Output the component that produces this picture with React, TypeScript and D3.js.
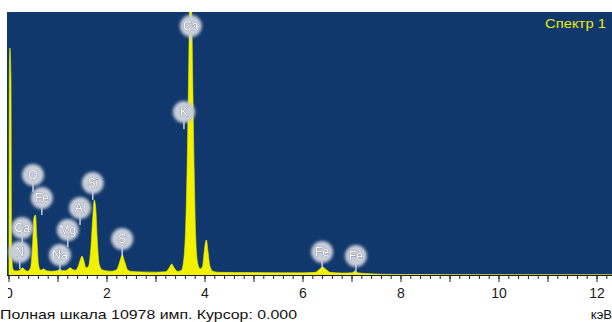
import React, { useEffect, useRef } from 'react';
import * as d3 from 'd3';

// spectrum (keV, counts)
const energyKeV = [0, 0.008, 0.02, 0.04, 0.055, 0.08, 0.12, 0.2, 0.25, 0.28, 0.32, 0.38, 0.44, 0.48, 0.51, 0.54, 0.57, 0.6, 0.64, 0.68, 0.71, 0.75, 0.85, 0.95, 1.0, 1.04, 1.08, 1.15, 1.21, 1.25, 1.29, 1.36, 1.41, 1.45, 1.49, 1.53, 1.57, 1.62, 1.67, 1.71, 1.74, 1.77, 1.8, 1.84, 1.9, 2.0, 2.1, 2.2, 2.26, 2.31, 2.36, 2.42, 2.5, 2.7, 3.0, 3.2, 3.27, 3.32, 3.37, 3.44, 3.52, 3.57, 3.61, 3.64, 3.67, 3.695, 3.72, 3.75, 3.78, 3.81, 3.85, 3.9, 3.95, 3.98, 4.01, 4.03, 4.06, 4.1, 4.16, 4.3, 5.0, 6.0, 6.25, 6.33, 6.4, 6.47, 6.56, 6.8, 7.0, 7.06, 7.12, 7.3, 7.6, 8.0, 9.0, 10.0, 11.0, 12.3];
const counts = [300, 8800, 9475, 8200, 900, 250, 170, 180, 260, 300, 220, 160, 300, 1200, 2400, 2500, 1500, 450, 200, 230, 260, 190, 160, 170, 200, 230, 190, 180, 250, 300, 240, 200, 350, 600, 790, 580, 300, 350, 1100, 2400, 3130, 2800, 1500, 450, 220, 170, 160, 230, 550, 835, 560, 220, 150, 130, 120, 140, 300, 460, 300, 150, 200, 700, 2300, 5000, 9000, 12500, 12000, 8000, 4200, 1600, 500, 250, 350, 900, 1380, 1460, 1000, 380, 160, 110, 100, 90, 110, 230, 334, 230, 110, 80, 90, 170, 90, 60, 30, 20, 15, 12, 10, 8];

// element markers (label, keV, counts of the marker centre)
const elementNames = ['Ca', 'K', 'O', 'Fe', 'Ca', 'N', 'Mg', 'Al', 'Si', 'Na', 'S', 'Fe', 'Fe'];
const elementKeV = [3.71, 3.57, 0.49, 0.67, 0.27, 0.22, 1.2, 1.45, 1.71, 1.04, 2.31, 6.39, 7.08];
const elementCounts = [10393, 6804, 4174, 3214, 1962, 960, 1878, 2797, 3840, 835, 1503, 960, 793];

const minorTicks = d3.range(0, 12.21, 0.2);
const majorTicks = d3.range(0, 13, 1);
const tickLabels = [0, 2, 4, 6, 8, 10, 12];

const fullScale = 10978;
const spectrumName = 'Спектр 1';
const statusText = 'Полная шкала 10978 имп. Курсор: 0.000';
const unitText = 'кэВ';

export default function App() {
  const ref = useRef<SVGSVGElement>(null);

  useEffect(() => {
    draw();
    // eslint-disable-next-line react-hooks/exhaustive-deps
  }, []);

  function draw() {
    const width = 612;
    const height = 322;
    const plot = { left: 7, top: 12, right: 612, bottom: 275 };
    const svg = d3.select(ref.current);
    svg.selectAll('*').remove();
    svg.attr('width', width).attr('height', height);

    const xScale = d3.scaleLinear().domain([0, 12]).range([9, 597]);
    const yScale = d3.scaleLinear().domain([0, fullScale]).range([plot.bottom, plot.top]);

    const defs = svg.append('defs');
    defs
      .append('clipPath')
      .attr('id', 'plot-clip')
      .append('rect')
      .attr('x', plot.left)
      .attr('y', plot.top)
      .attr('width', plot.right - plot.left)
      .attr('height', plot.bottom - plot.top);
    defs
      .append('clipPath')
      .attr('id', 'label-clip')
      .append('rect')
      .attr('x', 8)
      .attr('y', 0)
      .attr('width', width)
      .attr('height', height);
    const soft = defs.append('filter').attr('id', 'soft').attr('x', '-50%').attr('y', '-50%').attr('width', '200%').attr('height', '200%');
    soft.append('feGaussianBlur').attr('stdDeviation', 1.4);
    const glow = defs.append('filter').attr('id', 'glow');
    glow.append('feGaussianBlur').attr('stdDeviation', 0.35);

    svg.append('rect').attr('width', width).attr('height', height).attr('fill', '#ffffff');
    svg
      .append('rect')
      .attr('x', plot.left)
      .attr('y', plot.top)
      .attr('width', plot.right - plot.left)
      .attr('height', plot.bottom - plot.top)
      .attr('fill', '#10386c');

    const data = energyKeV.map((e, i) => ({ e, c: counts[i] }));
    const area = d3
      .area<{ e: number; c: number }>()
      .x((d) => xScale(d.e))
      .y0(yScale(0))
      .y1((d) => yScale(d.c))
      .curve(d3.curveMonotoneX);
    svg
      .append('path')
      .datum(data)
      .attr('clip-path', 'url(#plot-clip)')
      .attr('d', area)
      .attr('fill', '#f2f200')
      .attr('stroke', '#f2f200')
      .attr('stroke-width', 0.6);

    // element markers
    const labels = elementNames.map((name, i) => ({ name, e: elementKeV[i], c: elementCounts[i] }));
    const lg = svg.append('g').attr('class', 'elements');
    const item = lg
      .selectAll('g')
      .data(labels)
      .enter()
      .append('g')
      .attr('transform', (d) => `translate(${xScale(d.e)},${yScale(d.c)})`);
    item
      .append('line')
      .attr('x1', 0)
      .attr('x2', 0)
      .attr('y1', 8)
      .attr('y2', 17)
      .attr('stroke', '#cfd6e4')
      .attr('stroke-width', 1.4);
    item.append('circle').attr('r', 11).attr('fill', '#c3c8d5').attr('filter', 'url(#soft)');
    item.append('circle').attr('r', 8.5).attr('fill', '#c9cdda').attr('opacity', 0.9);
    item
      .append('text')
      .text((d) => d.name)
      .attr('text-anchor', 'middle')
      .attr('y', 4)
      .attr('font-family', 'Liberation Sans, Arial, sans-serif')
      .attr('font-size', 12)
      .attr('fill', '#ffffff')
      .attr('stroke', '#7a8296')
      .attr('stroke-width', 0.7)
      .attr('paint-order', 'stroke')
      .attr('filter', 'url(#glow)');

    svg
      .append('text')
      .text(spectrumName)
      .attr('x', 606)
      .attr('y', 28)
      .attr('text-anchor', 'end')
      .attr('font-family', 'Liberation Sans, Arial, sans-serif')
      .attr('font-size', 12.5)
      .attr('textLength', 61)
      .attr('lengthAdjust', 'spacingAndGlyphs')
      .attr('fill', '#e8ea10');

    // axis
    const axis = svg.append('g').attr('transform', `translate(0,${plot.bottom})`);
    axis
      .append('line')
      .attr('x1', plot.left)
      .attr('x2', plot.right)
      .attr('y1', 0.5)
      .attr('y2', 0.5)
      .attr('stroke', '#1c1c30')
      .attr('stroke-width', 1.2);
    axis
      .selectAll('line.minor')
      .data(minorTicks)
      .enter()
      .append('line')
      .attr('class', 'minor')
      .attr('x1', (d) => xScale(d))
      .attr('x2', (d) => xScale(d))
      .attr('y1', 0)
      .attr('y2', 4)
      .attr('stroke', '#1c1c30');
    axis
      .selectAll('line.major')
      .data(majorTicks)
      .enter()
      .append('line')
      .attr('class', 'major')
      .attr('x1', (d) => xScale(d))
      .attr('x2', (d) => xScale(d))
      .attr('y1', 0)
      .attr('y2', 7)
      .attr('stroke', '#1c1c30');
    axis
      .append('g')
      .attr('clip-path', 'url(#label-clip)')
      .selectAll('text')
      .data(tickLabels)
      .enter()
      .append('text')
      .text((d) => d)
      .attr('x', (d) => xScale(d))
      .attr('y', 23)
      .attr('text-anchor', 'middle')
      .attr('font-family', 'Liberation Sans, Arial, sans-serif')
      .attr('font-size', 14)
      .attr('fill', '#1a1a1a');

    svg
      .append('text')
      .text(statusText)
      .attr('x', 0)
      .attr('y', 319)
      .attr('font-family', 'Liberation Sans, Arial, sans-serif')
      .attr('font-size', 13)
      .attr('textLength', 297)
      .attr('lengthAdjust', 'spacingAndGlyphs')
      .attr('fill', '#111');
    svg
      .append('text')
      .text(unitText)
      .attr('x', 612)
      .attr('y', 319)
      .attr('text-anchor', 'end')
      .attr('font-family', 'Liberation Sans, Arial, sans-serif')
      .attr('font-size', 13)
      .attr('fill', '#111');
  }

  return <svg ref={ref} style={{ position: 'absolute', left: 0, top: 0, display: 'block' }} />;
}
